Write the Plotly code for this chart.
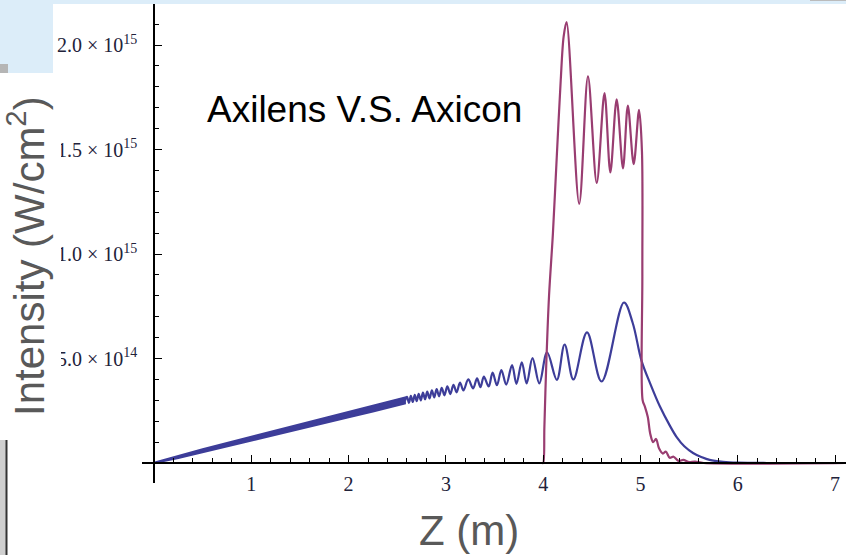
import plotly.graph_objects as go

# ---------------- data (intensity in units of 1e15 W/cm^2, z in m) ----------------
# Axicon (blue): dense oscillation region drawn as an envelope band
band_z = [0, 0.25, 0.5, 0.75, 1.0, 1.25, 1.5, 1.75, 2.0, 2.25, 2.5, 2.58]
band_upper = [0.002, 0.035, 0.066, 0.096, 0.126, 0.156, 0.186, 0.216, 0.246, 0.276, 0.306, 0.314]
band_lower = [0.0, 0.023, 0.050, 0.078, 0.106, 0.134, 0.162, 0.190, 0.218, 0.246, 0.274, 0.284]

# Axicon (blue): resolved oscillations and decay
axicon_z = [2.58, 2.60, 2.62, 2.64, 2.66, 2.68, 2.70, 2.72,
            2.742, 2.764, 2.786, 2.808, 2.832, 2.856, 2.88, 2.905, 2.93, 2.957, 2.985,
            3.015, 3.045, 3.078, 3.11, 3.145, 3.18, 3.23, 3.28, 3.32, 3.355, 3.39, 3.44,
            3.48, 3.525, 3.57, 3.62, 3.68, 3.725, 3.78, 3.83, 3.89, 3.96,
            4.04, 4.14, 4.22, 4.31, 4.45, 4.60, 4.83, 4.92,
            5.01, 5.1, 5.2, 5.3, 5.37, 5.45, 5.54, 5.63, 5.71, 5.85,
            6.0, 6.3, 7.11]
axicon_v = [0.299, 0.316, 0.288, 0.321, 0.292, 0.326, 0.296, 0.331,
            0.300, 0.337, 0.305, 0.342, 0.309, 0.348, 0.314, 0.354, 0.319, 0.360, 0.324,
            0.367, 0.330, 0.374, 0.338, 0.385, 0.347, 0.400, 0.357, 0.405, 0.363, 0.413, 0.366,
            0.432, 0.372, 0.445, 0.375, 0.469, 0.379, 0.482, 0.381, 0.502, 0.381,
            0.530, 0.398, 0.567, 0.400, 0.625, 0.390, 0.768, 0.67,
            0.49, 0.38, 0.27, 0.18, 0.125, 0.08, 0.048, 0.028, 0.015, 0.006,
            0.002, 0.0, 0.0]

# Axilens (magenta)
axilens_z = [0, 3.99, 4.0, 4.012, 4.03, 4.06, 4.10, 4.14, 4.18, 4.21,
             4.24, 4.37, 4.46, 4.55, 4.63, 4.69, 4.755, 4.82, 4.87, 4.93,
             4.985, 5.015, 5.019, 5.022, 5.045, 5.075, 5.10, 5.13, 5.16, 5.19,
             5.23, 5.26, 5.30, 5.34, 5.39, 5.44, 5.50, 5.56, 5.65, 7.11]
axilens_v = [0, 0, 0, 0.17, 0.45, 0.80, 1.10, 1.47, 1.83, 2.04,
             2.11, 1.24, 1.85, 1.34, 1.77, 1.39, 1.74, 1.41, 1.71, 1.43,
             1.69, 1.49, 0.9, 0.30, 0.27, 0.22, 0.14, 0.10, 0.115, 0.07,
             0.045, 0.055, 0.025, 0.03, 0.01, 0.015, 0.004, 0.007, 0.0, 0.0]

x_tick_vals = [1, 2, 3, 4, 5, 6, 7]
x_tick_text = ["1", "2", "3", "4", "5", "6", "7"]
y_tick_vals = [0.5, 1.0, 1.5, 2.0]
y_tick_text = ["5.0 × 10<sup>14</sup>", "1.0 × 10<sup>15</sup>",
               "1.5 × 10<sup>15</sup>", "2.0 × 10<sup>15</sup>"]

title_text = "Axilens V.S. Axicon"
x_title = "Z (m)"
y_title = "Intensity (W/cm<sup>2</sup>)"

BLUE = "#3d3d99"
MAGENTA = "#993d71"

W, H = 846, 555


def px(x):
    return x / W


def py(y):
    return 1 - y / H


fig = go.Figure()

fig.add_trace(go.Scatter(
    x=band_z + band_z[::-1], y=band_upper + band_lower[::-1],
    fill="toself", fillcolor=BLUE, mode="lines",
    line=dict(color=BLUE, width=1.8), hoverinfo="skip"))
fig.add_trace(go.Scatter(
    x=axicon_z, y=axicon_v, mode="lines",
    line=dict(color=BLUE, width=2.2, shape="spline", smoothing=1.0)))
fig.add_trace(go.Scatter(
    x=axilens_z, y=axilens_v, mode="lines",
    line=dict(color=MAGENTA, width=2.2, shape="spline", smoothing=0.9)))

tickfont = dict(family="Liberation Serif, Times New Roman, serif", size=20, color="#22223a")

fig.update_layout(
    width=W, height=H, margin=dict(l=0, r=0, t=0, b=0, pad=0),
    paper_bgcolor="white", plot_bgcolor="white", showlegend=False,
)
fig.update_xaxes(
    domain=[142 / W, 1], range=[-0.1233, 7.112], anchor="free", position=py(463),
    showgrid=False, zeroline=False, showline=True, linecolor="black", linewidth=1.5,
    ticks="inside", ticklen=7, tickwidth=1.2, tickcolor="black",
    tickvals=x_tick_vals, ticktext=x_tick_text, tickfont=tickfont, ticklabelstandoff=3,
    minor=dict(dtick=0.2, tick0=0, ticks="inside", ticklen=4, tickwidth=1, tickcolor="black"),
)
fig.update_yaxes(
    domain=[py(483), 1], range=[-0.0957, 2.2153], anchor="free", position=px(154),
    showgrid=False, zeroline=False, showline=True, linecolor="black", linewidth=1.5,
    ticks="inside", ticklen=7, tickwidth=1.2, tickcolor="black",
    tickvals=y_tick_vals, ticktext=y_tick_text, tickfont=tickfont, ticklabelstandoff=12,
    minor=dict(dtick=0.1, tick0=0, ticks="inside", ticklen=4, tickwidth=1, tickcolor="black"),
)

shapes = [
    # white slide text box hiding the left part of tick labels
    dict(type="rect", xref="paper", yref="paper", x0=0, x1=px(61), y0=0, y1=py(73),
         fillcolor="white", line=dict(width=0), layer="above"),
    # light blue slide region top-left
    dict(type="rect", xref="paper", yref="paper", x0=0, x1=px(53), y0=py(73), y1=1,
         fillcolor="#dcedf9", line=dict(width=0), layer="above"),
    # light blue strip at top
    dict(type="rect", xref="paper", yref="paper", x0=0, x1=1, y0=py(4), y1=1,
         fillcolor="#dcedf9", line=dict(width=0), layer="above"),
    # small grey corner element
    dict(type="rect", xref="paper", yref="paper", x0=0, x1=px(8), y0=py(73), y1=py(64),
         fillcolor="#b5b5b5", line=dict(width=0), layer="above"),
    # grey bar bottom-left
    dict(type="rect", xref="paper", yref="paper", x0=0, x1=px(7), y0=0, y1=py(440),
         fillcolor="#cfcfcf", line=dict(width=0), layer="above"),
    dict(type="line", xref="paper", yref="paper", x0=px(6.5), x1=px(6.5), y0=0, y1=py(440),
         line=dict(color="#333333", width=2), layer="above"),
    dict(type="line", xref="paper", yref="paper", x0=px(810), x1=1, y0=py(0.5), y1=py(0.5),
         line=dict(color="#bbbbbb", width=1), layer="above"),
]
fig.update_layout(shapes=shapes)

fig.add_annotation(text=title_text, xref="paper", yref="paper", x=px(205), y=py(109),
                   xanchor="left", yanchor="middle", showarrow=False,
                   font=dict(family="Liberation Sans, Arial, sans-serif", size=37, color="black"))
fig.add_annotation(text=x_title, xref="paper", yref="paper", x=px(469), y=py(530),
                   xanchor="center", yanchor="middle", showarrow=False,
                   font=dict(family="Liberation Sans, Arial, sans-serif", size=42, color="#595959"))
fig.add_annotation(text=y_title, xref="paper", yref="paper", x=px(26), y=py(256),
                   xanchor="center", yanchor="middle", showarrow=False, textangle=-90,
                   font=dict(family="Liberation Sans, Arial, sans-serif", size=42, color="#595959"))

fig.write_html("out.html", config={"displayModeBar": False},
               post_script="document.body.style.margin='0px';")
